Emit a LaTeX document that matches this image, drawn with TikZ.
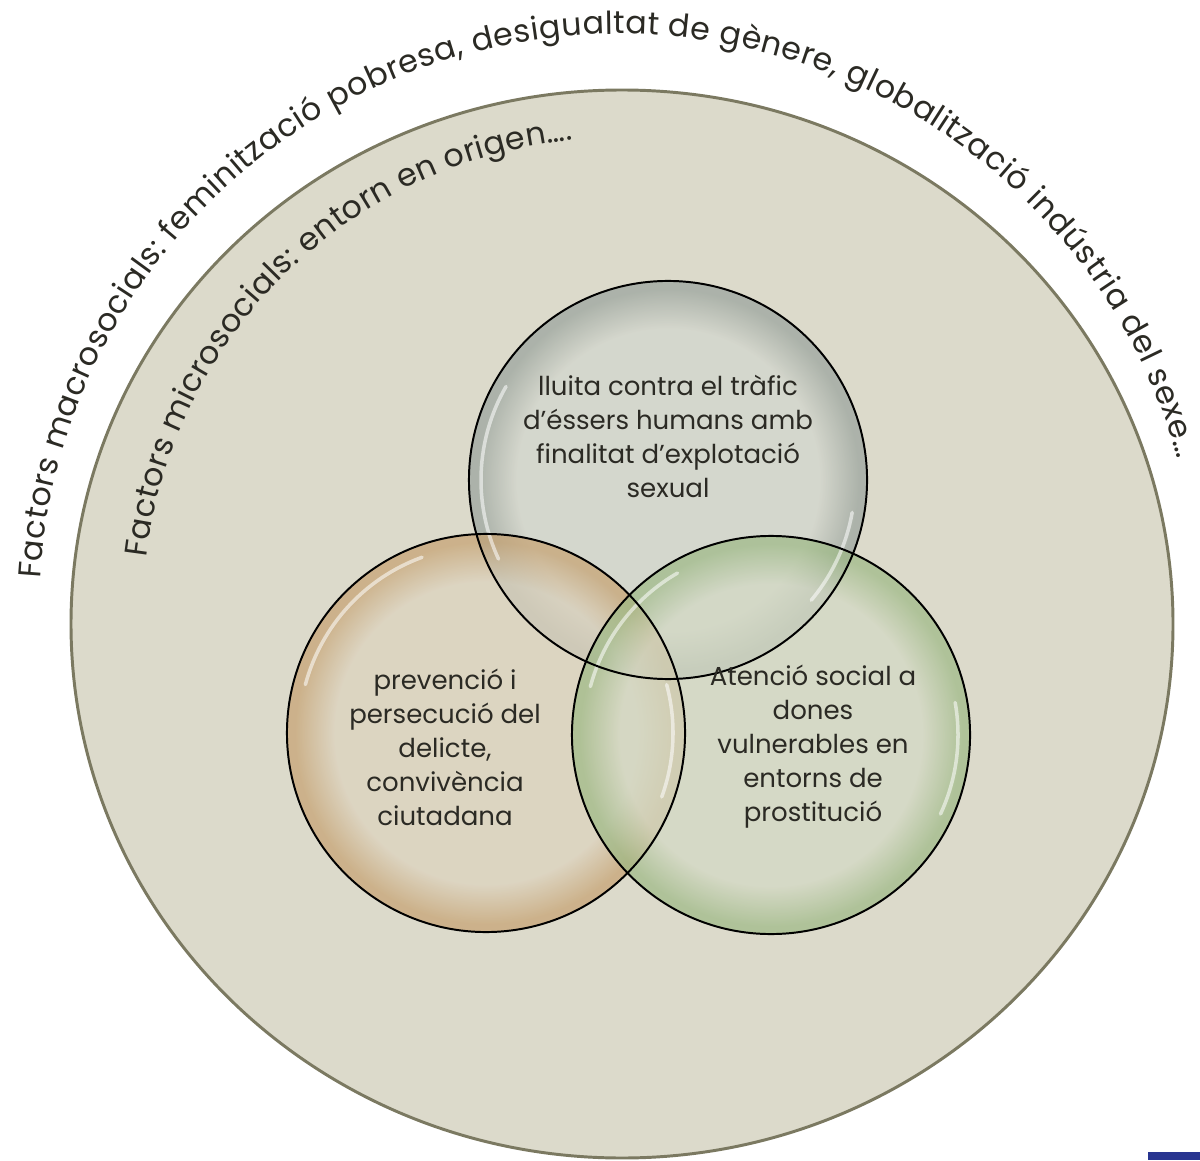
\documentclass[tikz,border=0pt]{standalone}
\usepackage{fontspec}
\setmainfont{Poppins}
\usetikzlibrary{decorations.text,positioning}
\definecolor{ringfill}{HTML}{DCDACB}
\definecolor{ringline}{HTML}{7B7961}
\definecolor{ink}{HTML}{2B2A24}
\definecolor{barblue}{HTML}{283590}
\definecolor{grayin}{HTML}{D2D6CE}
\definecolor{grayout}{HTML}{98A29C}
\definecolor{tanin}{HTML}{DDD3BE}
\definecolor{tanout}{HTML}{C6A170}
\definecolor{greenin}{HTML}{D3D9C4}
\definecolor{greenout}{HTML}{9DB985}
\pgfdeclareradialshading{glassgray}{\pgfpoint{0bp}{0bp}}{color(0bp)=(grayin); color(19bp)=(grayin); color(24bp)=(grayout); color(25bp)=(grayout); color(50bp)=(grayout)}
\pgfdeclareradialshading{glasstan}{\pgfpoint{0bp}{0bp}}{color(0bp)=(tanin); color(19bp)=(tanin); color(24bp)=(tanout); color(25bp)=(tanout); color(50bp)=(tanout)}
\pgfdeclareradialshading{glassgreen}{\pgfpoint{0bp}{0bp}}{color(0bp)=(greenin); color(19bp)=(greenin); color(24bp)=(greenout); color(25bp)=(greenout); color(50bp)=(greenout)}
\newcommand\arcfont{\fontsize{22.5}{27}\selectfont}

\begin{document}
\begin{tikzpicture}[x=0.025cm,y=0.025cm,
    venn/.style={circle,draw=black,line width=1.4pt,minimum size=9.95cm,inner sep=0pt},
    venntext/.style={align=center,text=ink,font=\fontsize{18.5}{24.2}\selectfont},
    gloss/.style={white,opacity=0.55,line width=2.5pt,line cap=round}]
    \useasboundingbox (0,0) rectangle (1200,1160);

    % outer ring
    \coordinate (ring) at (622,536);
    \coordinate (arc) at (619,546);
    \filldraw[fill=ringfill,draw=ringline,line width=2.1pt]
        (ring) ellipse[x radius=551,y radius=534];

    \path[decorate,decoration={text along path,text color=ink,
        text align=fit to path,
        text={|\arcfont|Factors macrosocials: feminització pobresa, desigualtat de gènere, globalització indústria del sexe…}}]
        (arc) ++(176.5:580) arc[start angle=176.5,end angle=15.5,radius=580];
    \path[decorate,decoration={text along path,text color=ink,
        text align=fit to path,
        text={|\arcfont|Factors microsocials: entorn en origen….}}]
        (arc) ++(173.2:476) arc[start angle=173.2,end angle=95.6,radius=476];

    % venn circles
    \coordinate (trafic) at (668,680);
    \coordinate (delicte) at (486,427);
    \coordinate (atencio) at (771,425);
    \shade[shading=glassgray,opacity=0.7] (trafic) circle[radius=199];
    \shade[shading=glasstan,opacity=0.7] (delicte) circle[radius=199];
    \shade[shading=glassgreen,opacity=0.7] (atencio) circle[radius=199];

    \draw[gloss] (trafic) ++(150:187) arc[start angle=150,end angle=205,radius=187];
    \draw[gloss] (trafic) ++(-10:187) arc[start angle=-10,end angle=-40,radius=187];
    \draw[gloss] (delicte) ++(110:187) arc[start angle=110,end angle=165,radius=187];
    \draw[gloss] (delicte) ++(15:187) arc[start angle=15,end angle=-20,radius=187];
    \draw[gloss] (atencio) ++(120:187) arc[start angle=120,end angle=165,radius=187];
    \draw[gloss] (atencio) ++(10:187) arc[start angle=10,end angle=-25,radius=187];

    \node[venn] (traficring) at (trafic) {};
    \node[venn] (delictering) at (delicte) {};
    \node[venn] (atenciorring) at (atencio) {};

    \node[venntext] (trafictext) at (668,724)
        {lluita contra el tràfic\\d’éssers humans amb\\finalitat d’explotació\\sexual};
    \node[venntext] (delictetext) at (445,413)
        {prevenció i\\persecució del\\delicte,\\convivència\\ciutadana};
    \node[venntext] (atenciotext) at (813,413)
        {Atenció social a\\dones\\vulnerables en\\entorns de\\prostitució};

    \fill[barblue] (1148,0) rectangle (1200,8);
\end{tikzpicture}
\end{document}
